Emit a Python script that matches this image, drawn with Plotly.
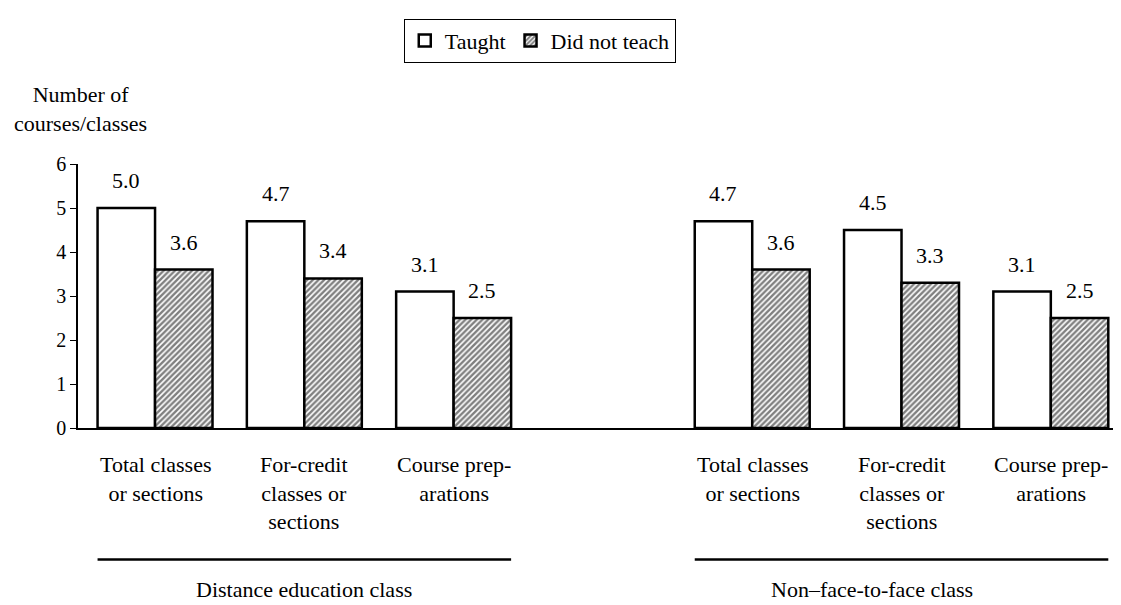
import plotly.graph_objects as go

# categories and values
categories = ["Total classes<br>or sections", "For-credit<br>classes or<br>sections", "Course prep-<br>arations"]
groups = ["Distance education class", "Non\u2013face-to-face class"]
taught = [5.0, 4.7, 3.1, 4.7, 4.5, 3.1]
did_not_teach = [3.6, 3.4, 2.5, 3.6, 3.3, 2.5]
y_ticks = [0, 1, 2, 3, 4, 5, 6]

FONT = "'Liberation Serif', 'DejaVu Serif', serif"
f22 = dict(family=FONT, size=22, color="black")

# two groups of three, with an empty gap of one slot between them
x_pos = [i + (i >= 3) for i in range(6)]
labels = categories * 2

fig = go.Figure()

fig.add_trace(go.Bar(
    x=x_pos, y=taught, name="Taught",
    marker=dict(color="white", line=dict(color="black", width=2.5)),
))
fig.add_trace(go.Bar(
    x=x_pos, y=did_not_teach, name="Did not teach",
    marker=dict(color="white", line=dict(color="black", width=2.5),
                pattern=dict(shape="/", size=4, solidity=0.6,
                             fgcolor="black", bgcolor="white")),
))

# value labels above bars
bw = 0.385
for x, t, d in zip(x_pos, taught, did_not_teach):
    fig.add_annotation(x=x - bw / 2, y=t, text=f"{t:.1f}", showarrow=False,
                       yanchor="bottom", yshift=13, font=f22)
    fig.add_annotation(x=x + bw / 2, y=d, text=f"{d:.1f}", showarrow=False,
                       yanchor="bottom", yshift=13, font=f22)

# category labels under bars
for x, lab in zip(x_pos, labels):
    fig.add_annotation(x=x, y=0, yref="paper", text=lab, showarrow=False,
                       yanchor="top", yshift=-22, font=f22)

# group underlines and labels
for g, name in enumerate(groups):
    x0 = x_pos[g * 3] - bw
    x1 = x_pos[g * 3 + 2] + bw
    fig.add_shape(type="line", x0=x0, x1=x1, xref="x", y0=-0.498, y1=-0.498,
                  yref="paper", line=dict(color="black", width=2.5))
fig.add_annotation(x=1.0, y=-0.61, yref="paper", yanchor="middle", text=groups[0],
                   showarrow=False, font=f22)
fig.add_annotation(x=4.8, y=-0.61, yref="paper", yanchor="middle", text=groups[1],
                   showarrow=False, font=f22)

# y axis title
fig.add_annotation(x=0.002, xref="paper", y=1.21, yref="paper",
                   text="Number of<br>courses/classes", showarrow=False,
                   xanchor="center", yanchor="middle", font=f22)

fig.update_layout(
    width=1121, height=605,
    margin=dict(l=70, r=11, t=151, b=185),
    paper_bgcolor="white", plot_bgcolor="white",
    font=f22,
    barmode="group", bargap=0.23, bargroupgap=0,
    showlegend=True,
    legend=dict(orientation="h", x=0.444, xanchor="center", y=1.55, yanchor="top",
                bordercolor="black", borderwidth=1, bgcolor="white",
                font=f22, itemwidth=30, tracegroupgap=0),
    xaxis=dict(range=[-0.516, 6.45], showticklabels=False, ticks="",
               showgrid=False, zeroline=False, showline=True,
               linecolor="black", linewidth=1.5),
    yaxis=dict(range=[0, 6], tickvals=y_ticks, ticks="outside", ticklen=6,
               tickcolor="black", showgrid=False, zeroline=False,
               showline=True, linecolor="black", linewidth=1.5,
               tickfont=dict(family=FONT, size=20, color="black")),
)

fig.write_html("out.html")
